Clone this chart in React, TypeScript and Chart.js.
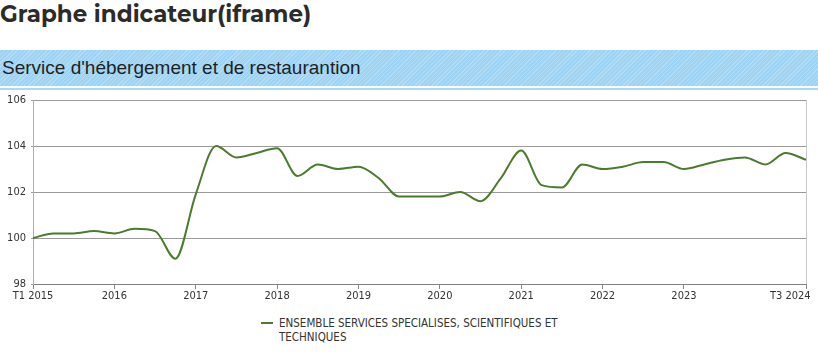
import React, { useEffect, useRef } from "react";
import { Chart, registerables } from "chart.js";

Chart.register(...registerables);

const pageTitle = "Graphe indicateur(iframe)";
const bannerTitle = "Service d'hébergement et de restaurantion";
const seriesName = ["ENSEMBLE SERVICES SPECIALISES, SCIENTIFIQUES ET", "TECHNIQUES"];

const years = [2015, 2016, 2017, 2018, 2019, 2020, 2021, 2022, 2023, 2024];
const quarters = ["T1", "T2", "T3", "T4"];
const yearTickLabels = ["T1 2015", "2016", "2017", "2018", "2019", "2020", "2021", "2022", "2023"];
const lastQuarterLabel = "T3 2024";

const values = [
  100.0, 100.2, 100.2, 100.3,
  100.2, 100.4, 100.3, 99.1,
  101.9, 104.0, 103.5, 103.7,
  103.9, 102.7, 103.2, 103.0,
  103.1, 102.6, 101.8, 101.8,
  101.8, 102.0, 101.6, 102.6,
  103.8, 102.3, 102.2, 103.2,
  103.0, 103.1, 103.3, 103.3,
  103.0, 103.2, 103.4, 103.5,
  103.2, 103.7, 103.4,
];

const yMin = 98;
const yMax = 106;
const yStep = 2;

const labels: string[] = [];
for (const y of years) {
  for (const q of quarters) {
    if (labels.length < values.length) labels.push(q + " " + y);
  }
}

const LINE_COLOR = "#4a7b2e";
const TICK_FONT = "'Liberation Sans Narrow', 'DejaVu Sans Condensed', Roboto, sans-serif";

export default function App() {
  const ref = useRef<HTMLCanvasElement | null>(null);

  useEffect(() => {
    document.body.style.margin = "0";
    const canvas = ref.current;
    if (!canvas) return;
    const last = labels.length - 1;
    const isYearTick = (i: number) => i % 4 === 0 && i / 4 < yearTickLabels.length;
    const chart = new Chart(canvas, {
      type: "line",
      data: {
        labels,
        datasets: [
          {
            label: seriesName.join(" "),
            data: values,
            borderColor: LINE_COLOR,
            backgroundColor: LINE_COLOR,
            borderWidth: 2,
            pointRadius: 0,
            cubicInterpolationMode: "monotone",
            fill: false,
          },
        ],
      },
      options: {
        animation: false,
        responsive: true,
        maintainAspectRatio: false,
        layout: { padding: { top: 8, right: 12, left: 0, bottom: 0 } },
        plugins: {
          legend: { display: false },
          tooltip: { enabled: false },
        },
        scales: {
          x: {
            type: "category",
            offset: false,
            grid: {
              drawOnChartArea: true,
              color: (ctx: any) => (ctx.index === last ? "#c8c8c8" : "rgba(0,0,0,0)"),
              tickColor: (ctx: any) =>
                isYearTick(ctx.index) || ctx.index === last ? "#888" : "rgba(0,0,0,0)",
              tickLength: 5,
              lineWidth: 1,
            },
            border: { display: true, color: "#808080", width: 1 },
            ticks: {
              autoSkip: false,
              maxRotation: 0,
              minRotation: 0,
              padding: 1,
              color: "#333",
              font: { family: TICK_FONT, size: 11 },
              callback: (_v: any, i: number) => {
                if (i === last) return lastQuarterLabel + "\u2007\u2007\u2007\u2007\u2007";
                if (isYearTick(i)) return yearTickLabels[i / 4];
                return "";
              },
            },
            afterFit: (scale: any) => {
              scale.height = 20;
              scale.paddingLeft = 0;
              scale.paddingRight = 0;
            },
          },
          y: {
            min: yMin,
            max: yMax,
            ticks: {
              stepSize: yStep,
              padding: 5,
              color: "#333",
              font: { family: TICK_FONT, size: 11 },
            },
            grid: {
              color: "#9a9a9a",
              lineWidth: 1,
              tickLength: 2,
              tickColor: "#9a9a9a",
            },
            border: { display: true, color: "#b0b0b0", width: 1 },
            afterFit: (scale: any) => {
              scale.width = 33;
              scale.paddingTop = 0;
              scale.paddingBottom = 0;
            },
          },
        },
      },
    });
    return () => chart.destroy();
  }, []);

  return (
    <div style={{ position: "relative", width: 818, height: 354, background: "#fff", overflow: "hidden" }}>
      <div
        style={{
          position: "absolute",
          left: 0,
          top: 0,
          fontFamily: "Montserrat, 'Open Sans', sans-serif",
          fontWeight: 700,
          fontSize: 23,
          lineHeight: "28px",
          color: "#2b2b2b",
          whiteSpace: "nowrap",
        }}
      >
        {pageTitle}
      </div>
      <div
        style={{
          position: "absolute",
          left: 0,
          top: 50,
          width: 818,
          height: 36,
          backgroundColor: "#9ed3f3",
          backgroundImage:
            "repeating-linear-gradient(135deg, rgba(255,255,255,0.22) 0px, rgba(255,255,255,0.22) 1px, rgba(255,255,255,0) 1px, rgba(255,255,255,0) 3px)",
        }}
      >
        <div
          style={{
            position: "absolute",
            left: 2,
            top: 7,
            fontFamily: "'Liberation Sans', Arial, sans-serif",
            fontSize: 19,
            lineHeight: "22px",
            color: "#1f1f1f",
            whiteSpace: "nowrap",
          }}
        >
          {bannerTitle}
        </div>
      </div>
      <div style={{ position: "absolute", left: 0, top: 88, width: 818, height: 2, background: "#a8d8f4" }} />
      <div style={{ position: "absolute", left: 0, top: 92, width: 818, height: 212 }}>
        <canvas ref={ref} />
      </div>
      <div
        style={{
          position: "absolute",
          left: 261,
          top: 322,
          width: 12,
          height: 2,
          background: LINE_COLOR,
        }}
      />
      <div
        style={{
          position: "absolute",
          left: 279,
          top: 316,
          fontFamily: TICK_FONT,
          fontSize: 11.5,
          lineHeight: "14px",
          color: "#333",
          whiteSpace: "nowrap",
        }}
      >
        {seriesName[0]}
        <br />
        {seriesName[1]}
      </div>
    </div>
  );
}
